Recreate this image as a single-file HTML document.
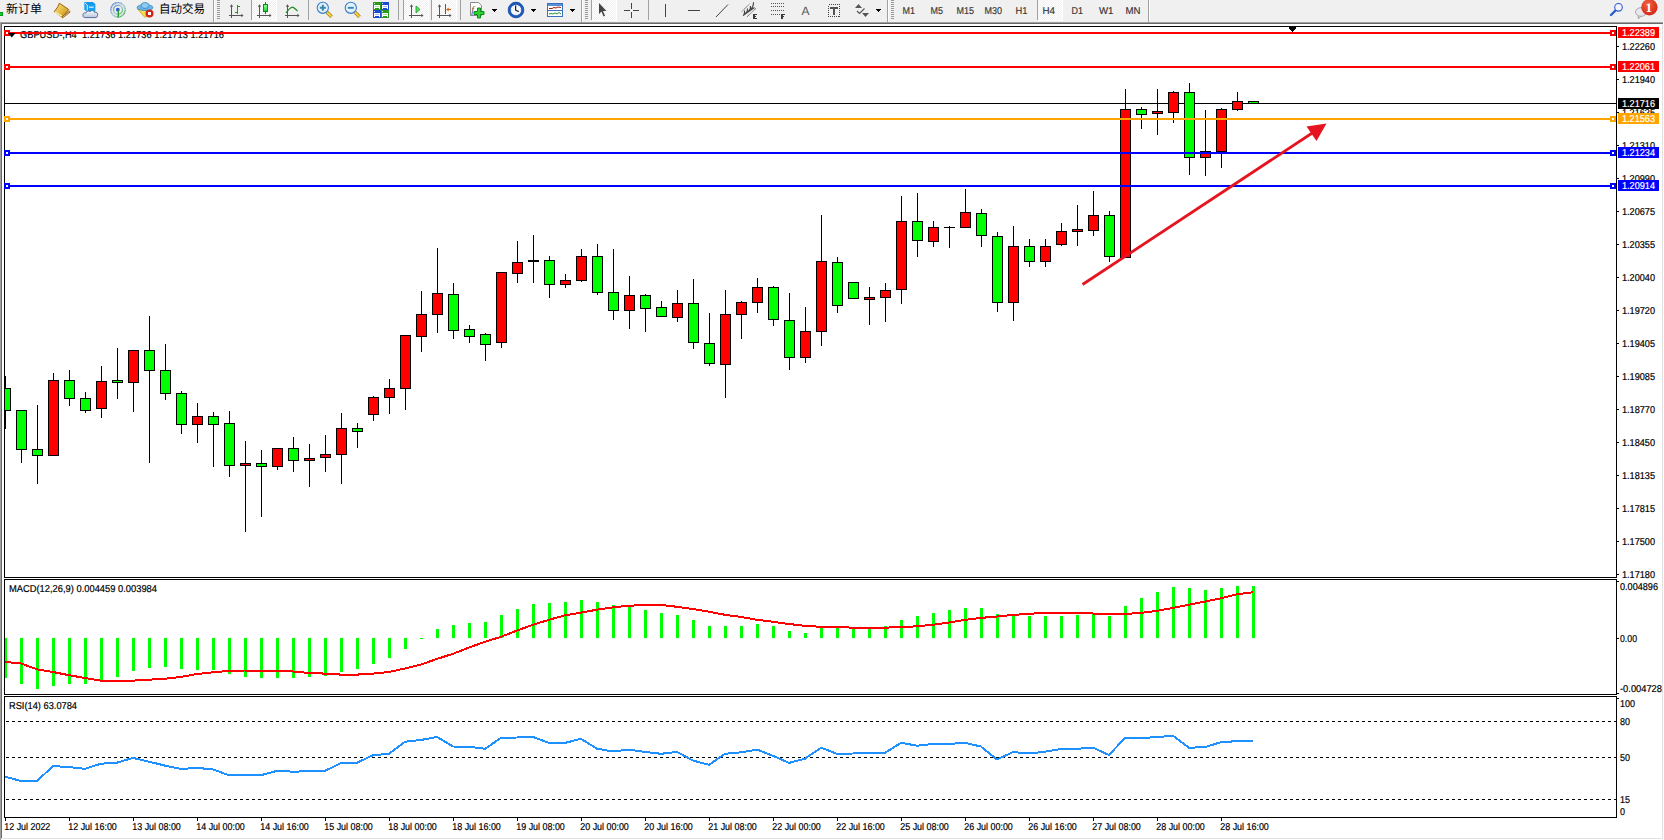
<!DOCTYPE html>
<html><head><meta charset="utf-8"><title>GBPUSD-,H4</title>
<style>
html,body{margin:0;padding:0;width:1664px;height:840px;overflow:hidden;background:#f0f0f0}
svg{display:block;position:absolute;left:0;top:0}
text{text-rendering:geometricPrecision}
.ax{font-family:"Liberation Sans",Arial,sans-serif;font-size:10px;fill:#000;stroke:#000;stroke-width:0.2px}
.w{fill:#fff;stroke:#fff}
.tb{font-family:"Liberation Sans",Arial,sans-serif;font-size:10px;fill:#333;stroke:#333;stroke-width:0.15px}
.cjk{font-family:"Liberation Sans","Noto Sans CJK SC","WenQuanYi Zen Hei",sans-serif;font-size:12px;fill:#000}
</style></head><body>
<svg width="1664" height="840" viewBox="0 0 1664 840" shape-rendering="crispEdges">
<rect x="0" y="0" width="1664" height="22" fill="#f0f0f0"/>
<rect x="0" y="22" width="1663" height="1" fill="#a0a0a0"/>
<rect x="0" y="23" width="1663" height="1" fill="#696969"/>
<rect x="0" y="22" width="1" height="818" fill="#a0a0a0"/>
<rect x="1" y="23" width="1" height="816" fill="#696969"/>
<rect x="2" y="24" width="1662" height="816" fill="#ffffff"/>
<rect x="1663" y="22" width="1" height="818" fill="#ffffff"/>
<rect x="1662" y="24" width="1" height="815" fill="#e3e3e3"/>
<rect x="1" y="838" width="1662" height="1" fill="#e3e3e3"/>
<rect x="4.5" y="26.5" width="1612" height="551" fill="none" stroke="#000" stroke-width="1"/>
<rect x="4.5" y="579.5" width="1612" height="115" fill="none" stroke="#000" stroke-width="1"/>
<rect x="4.5" y="696.5" width="1612" height="121" fill="none" stroke="#000" stroke-width="1"/>
<defs><clipPath id="cm"><rect x="5" y="27" width="1611" height="550"/></clipPath><clipPath id="cmacd"><rect x="5" y="580" width="1611" height="114"/></clipPath><clipPath id="crsi"><rect x="5" y="697" width="1611" height="120"/></clipPath></defs>
<g clip-path="url(#cm)">
<rect x="5" y="103" width="1611" height="1" fill="#000"/>
<rect x="5" y="376" width="1" height="53" fill="#000"/>
<rect x="0" y="388" width="11" height="23" fill="#000"/>
<rect x="1" y="389" width="9" height="21" fill="#00ff00"/>
<rect x="21" y="410" width="1" height="53" fill="#000"/>
<rect x="16" y="410" width="11" height="40" fill="#000"/>
<rect x="17" y="411" width="9" height="38" fill="#00ff00"/>
<rect x="37" y="405" width="1" height="79" fill="#000"/>
<rect x="32" y="449" width="11" height="7" fill="#000"/>
<rect x="33" y="450" width="9" height="5" fill="#00ff00"/>
<rect x="53" y="373" width="1" height="83" fill="#000"/>
<rect x="48" y="380" width="11" height="76" fill="#000"/>
<rect x="49" y="381" width="9" height="74" fill="#ff0000"/>
<rect x="69" y="370" width="1" height="36" fill="#000"/>
<rect x="64" y="380" width="11" height="19" fill="#000"/>
<rect x="65" y="381" width="9" height="17" fill="#00ff00"/>
<rect x="85" y="392" width="1" height="21" fill="#000"/>
<rect x="80" y="398" width="11" height="13" fill="#000"/>
<rect x="81" y="399" width="9" height="11" fill="#00ff00"/>
<rect x="101" y="366" width="1" height="52" fill="#000"/>
<rect x="96" y="381" width="11" height="28" fill="#000"/>
<rect x="97" y="382" width="9" height="26" fill="#ff0000"/>
<rect x="117" y="348" width="1" height="51" fill="#000"/>
<rect x="112" y="380" width="11" height="3" fill="#000"/>
<rect x="113" y="381" width="9" height="1" fill="#00ff00"/>
<rect x="133" y="350" width="1" height="62" fill="#000"/>
<rect x="128" y="350" width="11" height="33" fill="#000"/>
<rect x="129" y="351" width="9" height="31" fill="#ff0000"/>
<rect x="149" y="316" width="1" height="147" fill="#000"/>
<rect x="144" y="350" width="11" height="21" fill="#000"/>
<rect x="145" y="351" width="9" height="19" fill="#00ff00"/>
<rect x="165" y="344" width="1" height="56" fill="#000"/>
<rect x="160" y="370" width="11" height="24" fill="#000"/>
<rect x="161" y="371" width="9" height="22" fill="#00ff00"/>
<rect x="181" y="391" width="1" height="43" fill="#000"/>
<rect x="176" y="393" width="11" height="32" fill="#000"/>
<rect x="177" y="394" width="9" height="30" fill="#00ff00"/>
<rect x="197" y="403" width="1" height="40" fill="#000"/>
<rect x="192" y="416" width="11" height="9" fill="#000"/>
<rect x="193" y="417" width="9" height="7" fill="#ff0000"/>
<rect x="213" y="412" width="1" height="55" fill="#000"/>
<rect x="208" y="416" width="11" height="9" fill="#000"/>
<rect x="209" y="417" width="9" height="7" fill="#00ff00"/>
<rect x="229" y="411" width="1" height="66" fill="#000"/>
<rect x="224" y="423" width="11" height="43" fill="#000"/>
<rect x="225" y="424" width="9" height="41" fill="#00ff00"/>
<rect x="245" y="441" width="1" height="91" fill="#000"/>
<rect x="240" y="463" width="11" height="3" fill="#000"/>
<rect x="241" y="464" width="9" height="1" fill="#ff0000"/>
<rect x="261" y="450" width="1" height="67" fill="#000"/>
<rect x="256" y="463" width="11" height="4" fill="#000"/>
<rect x="257" y="464" width="9" height="2" fill="#00ff00"/>
<rect x="277" y="448" width="1" height="22" fill="#000"/>
<rect x="272" y="448" width="11" height="19" fill="#000"/>
<rect x="273" y="449" width="9" height="17" fill="#ff0000"/>
<rect x="293" y="437" width="1" height="35" fill="#000"/>
<rect x="288" y="448" width="11" height="13" fill="#000"/>
<rect x="289" y="449" width="9" height="11" fill="#00ff00"/>
<rect x="309" y="444" width="1" height="43" fill="#000"/>
<rect x="304" y="458" width="11" height="3" fill="#000"/>
<rect x="305" y="459" width="9" height="1" fill="#ff0000"/>
<rect x="325" y="435" width="1" height="37" fill="#000"/>
<rect x="320" y="454" width="11" height="4" fill="#000"/>
<rect x="321" y="455" width="9" height="2" fill="#ff0000"/>
<rect x="341" y="413" width="1" height="71" fill="#000"/>
<rect x="336" y="428" width="11" height="27" fill="#000"/>
<rect x="337" y="429" width="9" height="25" fill="#ff0000"/>
<rect x="357" y="423" width="1" height="25" fill="#000"/>
<rect x="352" y="428" width="11" height="4" fill="#000"/>
<rect x="353" y="429" width="9" height="2" fill="#00ff00"/>
<rect x="373" y="396" width="1" height="25" fill="#000"/>
<rect x="368" y="397" width="11" height="18" fill="#000"/>
<rect x="369" y="398" width="9" height="16" fill="#ff0000"/>
<rect x="389" y="379" width="1" height="35" fill="#000"/>
<rect x="384" y="388" width="11" height="10" fill="#000"/>
<rect x="385" y="389" width="9" height="8" fill="#ff0000"/>
<rect x="405" y="335" width="1" height="75" fill="#000"/>
<rect x="400" y="335" width="11" height="54" fill="#000"/>
<rect x="401" y="336" width="9" height="52" fill="#ff0000"/>
<rect x="421" y="291" width="1" height="61" fill="#000"/>
<rect x="416" y="314" width="11" height="23" fill="#000"/>
<rect x="417" y="315" width="9" height="21" fill="#ff0000"/>
<rect x="437" y="248" width="1" height="85" fill="#000"/>
<rect x="432" y="293" width="11" height="22" fill="#000"/>
<rect x="433" y="294" width="9" height="20" fill="#ff0000"/>
<rect x="453" y="283" width="1" height="56" fill="#000"/>
<rect x="448" y="294" width="11" height="37" fill="#000"/>
<rect x="449" y="295" width="9" height="35" fill="#00ff00"/>
<rect x="469" y="325" width="1" height="18" fill="#000"/>
<rect x="464" y="329" width="11" height="8" fill="#000"/>
<rect x="465" y="330" width="9" height="6" fill="#00ff00"/>
<rect x="485" y="333" width="1" height="28" fill="#000"/>
<rect x="480" y="334" width="11" height="11" fill="#000"/>
<rect x="481" y="335" width="9" height="9" fill="#00ff00"/>
<rect x="501" y="272" width="1" height="76" fill="#000"/>
<rect x="496" y="272" width="11" height="71" fill="#000"/>
<rect x="497" y="273" width="9" height="69" fill="#ff0000"/>
<rect x="517" y="241" width="1" height="42" fill="#000"/>
<rect x="512" y="262" width="11" height="12" fill="#000"/>
<rect x="513" y="263" width="9" height="10" fill="#ff0000"/>
<rect x="533" y="235" width="1" height="48" fill="#000"/>
<rect x="528" y="260" width="11" height="2" fill="#000"/>
<rect x="549" y="256" width="1" height="42" fill="#000"/>
<rect x="544" y="260" width="11" height="25" fill="#000"/>
<rect x="545" y="261" width="9" height="23" fill="#00ff00"/>
<rect x="565" y="274" width="1" height="14" fill="#000"/>
<rect x="560" y="280" width="11" height="5" fill="#000"/>
<rect x="561" y="281" width="9" height="3" fill="#ff0000"/>
<rect x="581" y="249" width="1" height="33" fill="#000"/>
<rect x="576" y="256" width="11" height="25" fill="#000"/>
<rect x="577" y="257" width="9" height="23" fill="#ff0000"/>
<rect x="597" y="244" width="1" height="51" fill="#000"/>
<rect x="592" y="256" width="11" height="37" fill="#000"/>
<rect x="593" y="257" width="9" height="35" fill="#00ff00"/>
<rect x="613" y="249" width="1" height="71" fill="#000"/>
<rect x="608" y="292" width="11" height="19" fill="#000"/>
<rect x="609" y="293" width="9" height="17" fill="#00ff00"/>
<rect x="629" y="276" width="1" height="53" fill="#000"/>
<rect x="624" y="295" width="11" height="16" fill="#000"/>
<rect x="625" y="296" width="9" height="14" fill="#ff0000"/>
<rect x="645" y="294" width="1" height="38" fill="#000"/>
<rect x="640" y="295" width="11" height="14" fill="#000"/>
<rect x="641" y="296" width="9" height="12" fill="#00ff00"/>
<rect x="661" y="301" width="1" height="16" fill="#000"/>
<rect x="656" y="307" width="11" height="10" fill="#000"/>
<rect x="657" y="308" width="9" height="8" fill="#00ff00"/>
<rect x="677" y="290" width="1" height="32" fill="#000"/>
<rect x="672" y="303" width="11" height="15" fill="#000"/>
<rect x="673" y="304" width="9" height="13" fill="#ff0000"/>
<rect x="693" y="279" width="1" height="70" fill="#000"/>
<rect x="688" y="303" width="11" height="40" fill="#000"/>
<rect x="689" y="304" width="9" height="38" fill="#00ff00"/>
<rect x="709" y="313" width="1" height="53" fill="#000"/>
<rect x="704" y="343" width="11" height="21" fill="#000"/>
<rect x="705" y="344" width="9" height="19" fill="#00ff00"/>
<rect x="725" y="290" width="1" height="108" fill="#000"/>
<rect x="720" y="314" width="11" height="51" fill="#000"/>
<rect x="721" y="315" width="9" height="49" fill="#ff0000"/>
<rect x="741" y="301" width="1" height="38" fill="#000"/>
<rect x="736" y="302" width="11" height="13" fill="#000"/>
<rect x="737" y="303" width="9" height="11" fill="#ff0000"/>
<rect x="757" y="278" width="1" height="35" fill="#000"/>
<rect x="752" y="287" width="11" height="16" fill="#000"/>
<rect x="753" y="288" width="9" height="14" fill="#ff0000"/>
<rect x="773" y="286" width="1" height="40" fill="#000"/>
<rect x="768" y="287" width="11" height="33" fill="#000"/>
<rect x="769" y="288" width="9" height="31" fill="#00ff00"/>
<rect x="789" y="293" width="1" height="77" fill="#000"/>
<rect x="784" y="320" width="11" height="38" fill="#000"/>
<rect x="785" y="321" width="9" height="36" fill="#00ff00"/>
<rect x="805" y="307" width="1" height="56" fill="#000"/>
<rect x="800" y="331" width="11" height="27" fill="#000"/>
<rect x="801" y="332" width="9" height="25" fill="#ff0000"/>
<rect x="821" y="215" width="1" height="131" fill="#000"/>
<rect x="816" y="261" width="11" height="71" fill="#000"/>
<rect x="817" y="262" width="9" height="69" fill="#ff0000"/>
<rect x="837" y="257" width="1" height="56" fill="#000"/>
<rect x="832" y="262" width="11" height="44" fill="#000"/>
<rect x="833" y="263" width="9" height="42" fill="#00ff00"/>
<rect x="853" y="282" width="1" height="17" fill="#000"/>
<rect x="848" y="282" width="11" height="17" fill="#000"/>
<rect x="849" y="283" width="9" height="15" fill="#00ff00"/>
<rect x="869" y="287" width="1" height="38" fill="#000"/>
<rect x="864" y="297" width="11" height="3" fill="#000"/>
<rect x="865" y="298" width="9" height="1" fill="#ff0000"/>
<rect x="885" y="283" width="1" height="39" fill="#000"/>
<rect x="880" y="290" width="11" height="8" fill="#000"/>
<rect x="881" y="291" width="9" height="6" fill="#ff0000"/>
<rect x="901" y="196" width="1" height="108" fill="#000"/>
<rect x="896" y="221" width="11" height="69" fill="#000"/>
<rect x="897" y="222" width="9" height="67" fill="#ff0000"/>
<rect x="917" y="193" width="1" height="64" fill="#000"/>
<rect x="912" y="221" width="11" height="20" fill="#000"/>
<rect x="913" y="222" width="9" height="18" fill="#00ff00"/>
<rect x="933" y="221" width="1" height="26" fill="#000"/>
<rect x="928" y="227" width="11" height="15" fill="#000"/>
<rect x="929" y="228" width="9" height="13" fill="#ff0000"/>
<rect x="949" y="226" width="1" height="22" fill="#000"/>
<rect x="944" y="227" width="11" height="1" fill="#000"/>
<rect x="965" y="189" width="1" height="39" fill="#000"/>
<rect x="960" y="212" width="11" height="16" fill="#000"/>
<rect x="961" y="213" width="9" height="14" fill="#ff0000"/>
<rect x="981" y="209" width="1" height="38" fill="#000"/>
<rect x="976" y="213" width="11" height="23" fill="#000"/>
<rect x="977" y="214" width="9" height="21" fill="#00ff00"/>
<rect x="997" y="232" width="1" height="80" fill="#000"/>
<rect x="992" y="236" width="11" height="67" fill="#000"/>
<rect x="993" y="237" width="9" height="65" fill="#00ff00"/>
<rect x="1013" y="226" width="1" height="95" fill="#000"/>
<rect x="1008" y="246" width="11" height="57" fill="#000"/>
<rect x="1009" y="247" width="9" height="55" fill="#ff0000"/>
<rect x="1029" y="239" width="1" height="28" fill="#000"/>
<rect x="1024" y="246" width="11" height="16" fill="#000"/>
<rect x="1025" y="247" width="9" height="14" fill="#00ff00"/>
<rect x="1045" y="239" width="1" height="28" fill="#000"/>
<rect x="1040" y="246" width="11" height="16" fill="#000"/>
<rect x="1041" y="247" width="9" height="14" fill="#ff0000"/>
<rect x="1061" y="223" width="1" height="23" fill="#000"/>
<rect x="1056" y="231" width="11" height="14" fill="#000"/>
<rect x="1057" y="232" width="9" height="12" fill="#ff0000"/>
<rect x="1077" y="205" width="1" height="41" fill="#000"/>
<rect x="1072" y="229" width="11" height="3" fill="#000"/>
<rect x="1073" y="230" width="9" height="1" fill="#ff0000"/>
<rect x="1093" y="191" width="1" height="45" fill="#000"/>
<rect x="1088" y="215" width="11" height="16" fill="#000"/>
<rect x="1089" y="216" width="9" height="14" fill="#ff0000"/>
<rect x="1109" y="211" width="1" height="51" fill="#000"/>
<rect x="1104" y="215" width="11" height="42" fill="#000"/>
<rect x="1105" y="216" width="9" height="40" fill="#00ff00"/>
<rect x="1125" y="89" width="1" height="169" fill="#000"/>
<rect x="1120" y="109" width="11" height="149" fill="#000"/>
<rect x="1121" y="110" width="9" height="147" fill="#ff0000"/>
<rect x="1141" y="107" width="1" height="22" fill="#000"/>
<rect x="1136" y="109" width="11" height="6" fill="#000"/>
<rect x="1137" y="110" width="9" height="4" fill="#00ff00"/>
<rect x="1157" y="89" width="1" height="46" fill="#000"/>
<rect x="1152" y="111" width="11" height="3" fill="#000"/>
<rect x="1153" y="112" width="9" height="1" fill="#ff0000"/>
<rect x="1173" y="91" width="1" height="32" fill="#000"/>
<rect x="1168" y="92" width="11" height="21" fill="#000"/>
<rect x="1169" y="93" width="9" height="19" fill="#ff0000"/>
<rect x="1189" y="83" width="1" height="92" fill="#000"/>
<rect x="1184" y="92" width="11" height="66" fill="#000"/>
<rect x="1185" y="93" width="9" height="64" fill="#00ff00"/>
<rect x="1205" y="110" width="1" height="66" fill="#000"/>
<rect x="1200" y="151" width="11" height="7" fill="#000"/>
<rect x="1201" y="152" width="9" height="5" fill="#ff0000"/>
<rect x="1221" y="108" width="1" height="60" fill="#000"/>
<rect x="1216" y="109" width="11" height="43" fill="#000"/>
<rect x="1217" y="110" width="9" height="41" fill="#ff0000"/>
<rect x="1237" y="92" width="1" height="19" fill="#000"/>
<rect x="1232" y="101" width="11" height="9" fill="#000"/>
<rect x="1233" y="102" width="9" height="7" fill="#ff0000"/>
<rect x="1253" y="101" width="1" height="3" fill="#000"/>
<rect x="1248" y="101" width="11" height="3" fill="#000"/>
<rect x="1249" y="102" width="9" height="1" fill="#00ff00"/>
</g>
<rect x="1617" y="46" width="2" height="1" fill="#000"/>
<text x="1622" y="50" class="ax" textLength="33" lengthAdjust="spacingAndGlyphs">1.22260</text>
<rect x="1617" y="79" width="2" height="1" fill="#000"/>
<text x="1622" y="83" class="ax" textLength="33" lengthAdjust="spacingAndGlyphs">1.21940</text>
<rect x="1617" y="112" width="2" height="1" fill="#000"/>
<text x="1622" y="116" class="ax" textLength="33" lengthAdjust="spacingAndGlyphs">1.21625</text>
<rect x="1617" y="145" width="2" height="1" fill="#000"/>
<text x="1622" y="149" class="ax" textLength="33" lengthAdjust="spacingAndGlyphs">1.21310</text>
<rect x="1617" y="178" width="2" height="1" fill="#000"/>
<text x="1622" y="182" class="ax" textLength="33" lengthAdjust="spacingAndGlyphs">1.20990</text>
<rect x="1617" y="211" width="2" height="1" fill="#000"/>
<text x="1622" y="215" class="ax" textLength="33" lengthAdjust="spacingAndGlyphs">1.20675</text>
<rect x="1617" y="244" width="2" height="1" fill="#000"/>
<text x="1622" y="248" class="ax" textLength="33" lengthAdjust="spacingAndGlyphs">1.20355</text>
<rect x="1617" y="277" width="2" height="1" fill="#000"/>
<text x="1622" y="281" class="ax" textLength="33" lengthAdjust="spacingAndGlyphs">1.20040</text>
<rect x="1617" y="310" width="2" height="1" fill="#000"/>
<text x="1622" y="314" class="ax" textLength="33" lengthAdjust="spacingAndGlyphs">1.19720</text>
<rect x="1617" y="343" width="2" height="1" fill="#000"/>
<text x="1622" y="347" class="ax" textLength="33" lengthAdjust="spacingAndGlyphs">1.19405</text>
<rect x="1617" y="376" width="2" height="1" fill="#000"/>
<text x="1622" y="380" class="ax" textLength="33" lengthAdjust="spacingAndGlyphs">1.19085</text>
<rect x="1617" y="409" width="2" height="1" fill="#000"/>
<text x="1622" y="413" class="ax" textLength="33" lengthAdjust="spacingAndGlyphs">1.18770</text>
<rect x="1617" y="442" width="2" height="1" fill="#000"/>
<text x="1622" y="446" class="ax" textLength="33" lengthAdjust="spacingAndGlyphs">1.18450</text>
<rect x="1617" y="475" width="2" height="1" fill="#000"/>
<text x="1622" y="479" class="ax" textLength="33" lengthAdjust="spacingAndGlyphs">1.18135</text>
<rect x="1617" y="508" width="2" height="1" fill="#000"/>
<text x="1622" y="512" class="ax" textLength="33" lengthAdjust="spacingAndGlyphs">1.17815</text>
<rect x="1617" y="541" width="2" height="1" fill="#000"/>
<text x="1622" y="545" class="ax" textLength="33" lengthAdjust="spacingAndGlyphs">1.17500</text>
<rect x="1617" y="574" width="2" height="1" fill="#000"/>
<text x="1622" y="578" class="ax" textLength="33" lengthAdjust="spacingAndGlyphs">1.17180</text>
<text x="20" y="38" class="ax" textLength="204" lengthAdjust="spacingAndGlyphs" xml:space="preserve">GBPUSD-,H4  1.21736 1.21736 1.21713 1.21716</text>
<rect x="5" y="32" width="1611" height="2" fill="#ff0000"/>
<rect x="4" y="30" width="6" height="6" fill="#ff0000"/>
<rect x="6" y="32" width="2" height="2" fill="#fff"/>
<rect x="1610" y="30" width="6" height="6" fill="#ff0000"/>
<rect x="1612" y="32" width="2" height="2" fill="#fff"/>
<rect x="5" y="66" width="1611" height="2" fill="#ff0000"/>
<rect x="4" y="64" width="6" height="6" fill="#ff0000"/>
<rect x="6" y="66" width="2" height="2" fill="#fff"/>
<rect x="1610" y="64" width="6" height="6" fill="#ff0000"/>
<rect x="1612" y="66" width="2" height="2" fill="#fff"/>
<rect x="5" y="118" width="1611" height="2" fill="#ffa500"/>
<rect x="4" y="116" width="6" height="6" fill="#ffa500"/>
<rect x="6" y="118" width="2" height="2" fill="#fff"/>
<rect x="1610" y="116" width="6" height="6" fill="#ffa500"/>
<rect x="1612" y="118" width="2" height="2" fill="#fff"/>
<rect x="5" y="152" width="1611" height="2" fill="#0000ff"/>
<rect x="4" y="150" width="6" height="6" fill="#0000ff"/>
<rect x="6" y="152" width="2" height="2" fill="#fff"/>
<rect x="1610" y="150" width="6" height="6" fill="#0000ff"/>
<rect x="1612" y="152" width="2" height="2" fill="#fff"/>
<rect x="5" y="185" width="1611" height="2" fill="#0000ff"/>
<rect x="4" y="183" width="6" height="6" fill="#0000ff"/>
<rect x="6" y="185" width="2" height="2" fill="#fff"/>
<rect x="1610" y="183" width="6" height="6" fill="#0000ff"/>
<rect x="1612" y="185" width="2" height="2" fill="#fff"/>
<polygon points="8,33 15.5,33 11.75,37.5" fill="#000" shape-rendering="auto"/>
<line x1="1082.5" y1="284.5" x2="1313" y2="132.5" stroke="#e6141e" stroke-width="2.8" shape-rendering="auto"/>
<polygon points="1306.5,126.5 1326.5,123.5 1316.5,141" fill="#e6141e" shape-rendering="auto"/>
<polygon points="1287.5,26 1297.5,26 1292.5,32.5" fill="#000"/>
<rect x="1618" y="27" width="41" height="11" fill="#ff0000"/>
<text x="1622" y="36" class="ax w" textLength="33" lengthAdjust="spacingAndGlyphs">1.22389</text>
<rect x="1618" y="61" width="41" height="11" fill="#ff0000"/>
<text x="1622" y="70" class="ax w" textLength="33" lengthAdjust="spacingAndGlyphs">1.22061</text>
<rect x="1618" y="113" width="41" height="11" fill="#ffa500"/>
<text x="1622" y="122" class="ax w" textLength="33" lengthAdjust="spacingAndGlyphs">1.21563</text>
<rect x="1618" y="147" width="41" height="11" fill="#0000ff"/>
<text x="1622" y="156" class="ax w" textLength="33" lengthAdjust="spacingAndGlyphs">1.21234</text>
<rect x="1618" y="180" width="41" height="11" fill="#0000ff"/>
<text x="1622" y="189" class="ax w" textLength="33" lengthAdjust="spacingAndGlyphs">1.20914</text>
<rect x="1618" y="98" width="41" height="11" fill="#000"/>
<text x="1622" y="107" class="ax w" textLength="33" lengthAdjust="spacingAndGlyphs">1.21716</text>
<g clip-path="url(#cmacd)">
<rect x="4" y="638" width="3" height="40" fill="#00ff00"/>
<rect x="20" y="638" width="3" height="46" fill="#00ff00"/>
<rect x="36" y="638" width="3" height="51" fill="#00ff00"/>
<rect x="52" y="638" width="3" height="48" fill="#00ff00"/>
<rect x="68" y="638" width="3" height="46" fill="#00ff00"/>
<rect x="84" y="638" width="3" height="46" fill="#00ff00"/>
<rect x="100" y="638" width="3" height="42" fill="#00ff00"/>
<rect x="116" y="638" width="3" height="39" fill="#00ff00"/>
<rect x="132" y="638" width="3" height="33" fill="#00ff00"/>
<rect x="148" y="638" width="3" height="30" fill="#00ff00"/>
<rect x="164" y="638" width="3" height="29" fill="#00ff00"/>
<rect x="180" y="638" width="3" height="31" fill="#00ff00"/>
<rect x="196" y="638" width="3" height="32" fill="#00ff00"/>
<rect x="212" y="638" width="3" height="32" fill="#00ff00"/>
<rect x="228" y="638" width="3" height="36" fill="#00ff00"/>
<rect x="244" y="638" width="3" height="39" fill="#00ff00"/>
<rect x="260" y="638" width="3" height="40" fill="#00ff00"/>
<rect x="276" y="638" width="3" height="40" fill="#00ff00"/>
<rect x="292" y="638" width="3" height="40" fill="#00ff00"/>
<rect x="308" y="638" width="3" height="39" fill="#00ff00"/>
<rect x="324" y="638" width="3" height="38" fill="#00ff00"/>
<rect x="340" y="638" width="3" height="34" fill="#00ff00"/>
<rect x="356" y="638" width="3" height="31" fill="#00ff00"/>
<rect x="372" y="638" width="3" height="26" fill="#00ff00"/>
<rect x="388" y="638" width="3" height="20" fill="#00ff00"/>
<rect x="404" y="638" width="3" height="11" fill="#00ff00"/>
<rect x="420" y="638" width="3" height="1" fill="#00ff00"/>
<rect x="436" y="629" width="3" height="9" fill="#00ff00"/>
<rect x="452" y="625" width="3" height="13" fill="#00ff00"/>
<rect x="468" y="623" width="3" height="15" fill="#00ff00"/>
<rect x="484" y="622" width="3" height="16" fill="#00ff00"/>
<rect x="500" y="615" width="3" height="23" fill="#00ff00"/>
<rect x="516" y="609" width="3" height="29" fill="#00ff00"/>
<rect x="532" y="604" width="3" height="34" fill="#00ff00"/>
<rect x="548" y="603" width="3" height="35" fill="#00ff00"/>
<rect x="564" y="602" width="3" height="36" fill="#00ff00"/>
<rect x="580" y="600" width="3" height="38" fill="#00ff00"/>
<rect x="596" y="602" width="3" height="36" fill="#00ff00"/>
<rect x="612" y="605" width="3" height="33" fill="#00ff00"/>
<rect x="628" y="607" width="3" height="31" fill="#00ff00"/>
<rect x="644" y="610" width="3" height="28" fill="#00ff00"/>
<rect x="660" y="613" width="3" height="25" fill="#00ff00"/>
<rect x="676" y="615" width="3" height="23" fill="#00ff00"/>
<rect x="692" y="620" width="3" height="18" fill="#00ff00"/>
<rect x="708" y="626" width="3" height="12" fill="#00ff00"/>
<rect x="724" y="626" width="3" height="12" fill="#00ff00"/>
<rect x="740" y="626" width="3" height="12" fill="#00ff00"/>
<rect x="756" y="624" width="3" height="14" fill="#00ff00"/>
<rect x="772" y="626" width="3" height="12" fill="#00ff00"/>
<rect x="788" y="631" width="3" height="7" fill="#00ff00"/>
<rect x="804" y="633" width="3" height="5" fill="#00ff00"/>
<rect x="820" y="627" width="3" height="11" fill="#00ff00"/>
<rect x="836" y="627" width="3" height="11" fill="#00ff00"/>
<rect x="852" y="628" width="3" height="10" fill="#00ff00"/>
<rect x="868" y="628" width="3" height="10" fill="#00ff00"/>
<rect x="884" y="626" width="3" height="12" fill="#00ff00"/>
<rect x="900" y="620" width="3" height="18" fill="#00ff00"/>
<rect x="916" y="616" width="3" height="22" fill="#00ff00"/>
<rect x="932" y="613" width="3" height="25" fill="#00ff00"/>
<rect x="948" y="610" width="3" height="28" fill="#00ff00"/>
<rect x="964" y="608" width="3" height="30" fill="#00ff00"/>
<rect x="980" y="608" width="3" height="30" fill="#00ff00"/>
<rect x="996" y="614" width="3" height="24" fill="#00ff00"/>
<rect x="1012" y="615" width="3" height="23" fill="#00ff00"/>
<rect x="1028" y="616" width="3" height="22" fill="#00ff00"/>
<rect x="1044" y="616" width="3" height="22" fill="#00ff00"/>
<rect x="1060" y="616" width="3" height="22" fill="#00ff00"/>
<rect x="1076" y="615" width="3" height="23" fill="#00ff00"/>
<rect x="1092" y="614" width="3" height="24" fill="#00ff00"/>
<rect x="1108" y="616" width="3" height="22" fill="#00ff00"/>
<rect x="1124" y="606" width="3" height="32" fill="#00ff00"/>
<rect x="1140" y="598" width="3" height="40" fill="#00ff00"/>
<rect x="1156" y="592" width="3" height="46" fill="#00ff00"/>
<rect x="1172" y="587" width="3" height="51" fill="#00ff00"/>
<rect x="1188" y="588" width="3" height="50" fill="#00ff00"/>
<rect x="1204" y="590" width="3" height="48" fill="#00ff00"/>
<rect x="1220" y="588" width="3" height="50" fill="#00ff00"/>
<rect x="1236" y="586" width="3" height="52" fill="#00ff00"/>
<rect x="1252" y="586" width="3" height="52" fill="#00ff00"/>
<polyline points="5,661.9 21,663.5 37,669.3 53,672.0 69,675.2 85,678.0 101,680.6 117,680.6 133,680.6 149,679.7 165,678.7 181,676.9 197,674.0 213,672.3 229,670.9 245,670.5 261,670.5 277,670.5 293,671.5 309,673.0 325,673.6 341,674.6 357,674.6 373,673.6 389,672.0 405,668.5 421,664.6 437,658.9 453,653.8 469,647.5 485,641.8 501,636.8 517,630.5 533,624.8 549,619.8 565,615.3 581,612.6 597,609.7 613,607.3 629,605.8 645,604.9 661,604.9 677,606.8 693,609.0 709,611.7 725,614.8 741,616.9 757,619.8 773,621.8 789,624.0 805,625.8 821,626.8 837,627.2 853,627.6 869,627.6 885,627.6 901,627.2 917,626.3 933,624.8 949,622.5 965,619.9 981,617.9 997,616.5 1013,614.9 1029,613.8 1045,612.9 1061,612.9 1077,612.9 1093,613.5 1109,614.0 1125,614.0 1141,612.9 1157,610.8 1173,607.9 1189,604.7 1205,601.6 1221,598.3 1237,594.3 1253,592.2" fill="none" stroke="#ff0000" stroke-width="2"/>
</g>
<text x="9" y="592" class="ax" textLength="148" lengthAdjust="spacingAndGlyphs">MACD(12,26,9) 0.004459 0.003984</text>
<rect x="1617" y="581" width="2" height="1" fill="#000"/>
<rect x="1617" y="638" width="2" height="1" fill="#000"/>
<rect x="1617" y="693" width="2" height="1" fill="#000"/>
<text x="1620" y="590" class="ax" textLength="38" lengthAdjust="spacingAndGlyphs">0.004896</text>
<text x="1620" y="642" class="ax" textLength="17" lengthAdjust="spacingAndGlyphs">0.00</text>
<text x="1620" y="692" class="ax" textLength="42" lengthAdjust="spacingAndGlyphs">-0.004728</text>
<line x1="6" y1="721.5" x2="1616" y2="721.5" stroke="#000" stroke-width="1" stroke-dasharray="3,3"/>
<line x1="6" y1="757.5" x2="1616" y2="757.5" stroke="#000" stroke-width="1" stroke-dasharray="3,3"/>
<line x1="6" y1="799.5" x2="1616" y2="799.5" stroke="#000" stroke-width="1" stroke-dasharray="3,3"/>
<g clip-path="url(#crsi)">
<polyline points="5,776.7 21,781.0 37,781.0 53,766.0 69,767.1 85,768.8 101,763.7 117,762.7 133,757.9 149,761.7 165,765.6 181,769.0 197,767.9 213,769.4 229,775.2 245,775.2 261,775.2 277,770.8 293,771.7 309,771.2 325,770.8 341,763.1 357,762.7 373,755.2 389,753.8 405,741.7 421,740.0 437,736.9 453,746.5 469,746.7 485,748.8 501,737.9 517,737.5 533,736.9 549,742.9 565,742.9 581,738.8 597,748.7 613,751.5 629,749.6 645,751.9 661,753.8 677,751.9 693,760.6 709,764.8 725,753.8 741,752.3 757,749.6 773,755.8 789,762.9 805,758.7 821,747.7 837,753.8 853,753.5 869,752.9 885,752.9 901,742.8 917,745.7 933,743.9 949,743.9 965,742.8 981,746.6 997,759.5 1013,752.1 1029,753.5 1045,751.7 1061,749.0 1077,748.8 1093,747.7 1109,755.0 1125,737.9 1141,737.9 1157,737.2 1173,735.7 1189,747.7 1205,747.2 1221,742.1 1237,741.2 1253,741.0" fill="none" stroke="#1e90ff" stroke-width="2"/>
</g>
<text x="9" y="709" class="ax" textLength="68" lengthAdjust="spacingAndGlyphs">RSI(14) 63.0784</text>
<rect x="1617" y="698" width="2" height="1" fill="#000"/>
<text x="1620" y="707" class="ax" textLength="15" lengthAdjust="spacingAndGlyphs">100</text>
<text x="1620" y="725" class="ax" textLength="10" lengthAdjust="spacingAndGlyphs">80</text>
<text x="1620" y="761" class="ax" textLength="10" lengthAdjust="spacingAndGlyphs">50</text>
<text x="1620" y="803" class="ax" textLength="10" lengthAdjust="spacingAndGlyphs">15</text>
<text x="1620" y="815" class="ax" textLength="5" lengthAdjust="spacingAndGlyphs">0</text>
<rect x="5" y="818" width="1" height="3" fill="#000"/>
<text x="4.3" y="830" class="ax" textLength="46" lengthAdjust="spacingAndGlyphs">12 Jul 2022</text>
<rect x="69" y="818" width="1" height="3" fill="#000"/>
<text x="68.3" y="830" class="ax" textLength="48.5" lengthAdjust="spacingAndGlyphs">12 Jul 16:00</text>
<rect x="133" y="818" width="1" height="3" fill="#000"/>
<text x="132.3" y="830" class="ax" textLength="48.5" lengthAdjust="spacingAndGlyphs">13 Jul 08:00</text>
<rect x="197" y="818" width="1" height="3" fill="#000"/>
<text x="196.3" y="830" class="ax" textLength="48.5" lengthAdjust="spacingAndGlyphs">14 Jul 00:00</text>
<rect x="261" y="818" width="1" height="3" fill="#000"/>
<text x="260.3" y="830" class="ax" textLength="48.5" lengthAdjust="spacingAndGlyphs">14 Jul 16:00</text>
<rect x="325" y="818" width="1" height="3" fill="#000"/>
<text x="324.3" y="830" class="ax" textLength="48.5" lengthAdjust="spacingAndGlyphs">15 Jul 08:00</text>
<rect x="389" y="818" width="1" height="3" fill="#000"/>
<text x="388.3" y="830" class="ax" textLength="48.5" lengthAdjust="spacingAndGlyphs">18 Jul 00:00</text>
<rect x="453" y="818" width="1" height="3" fill="#000"/>
<text x="452.3" y="830" class="ax" textLength="48.5" lengthAdjust="spacingAndGlyphs">18 Jul 16:00</text>
<rect x="517" y="818" width="1" height="3" fill="#000"/>
<text x="516.3" y="830" class="ax" textLength="48.5" lengthAdjust="spacingAndGlyphs">19 Jul 08:00</text>
<rect x="581" y="818" width="1" height="3" fill="#000"/>
<text x="580.3" y="830" class="ax" textLength="48.5" lengthAdjust="spacingAndGlyphs">20 Jul 00:00</text>
<rect x="645" y="818" width="1" height="3" fill="#000"/>
<text x="644.3" y="830" class="ax" textLength="48.5" lengthAdjust="spacingAndGlyphs">20 Jul 16:00</text>
<rect x="709" y="818" width="1" height="3" fill="#000"/>
<text x="708.3" y="830" class="ax" textLength="48.5" lengthAdjust="spacingAndGlyphs">21 Jul 08:00</text>
<rect x="773" y="818" width="1" height="3" fill="#000"/>
<text x="772.3" y="830" class="ax" textLength="48.5" lengthAdjust="spacingAndGlyphs">22 Jul 00:00</text>
<rect x="837" y="818" width="1" height="3" fill="#000"/>
<text x="836.3" y="830" class="ax" textLength="48.5" lengthAdjust="spacingAndGlyphs">22 Jul 16:00</text>
<rect x="901" y="818" width="1" height="3" fill="#000"/>
<text x="900.3" y="830" class="ax" textLength="48.5" lengthAdjust="spacingAndGlyphs">25 Jul 08:00</text>
<rect x="965" y="818" width="1" height="3" fill="#000"/>
<text x="964.3" y="830" class="ax" textLength="48.5" lengthAdjust="spacingAndGlyphs">26 Jul 00:00</text>
<rect x="1029" y="818" width="1" height="3" fill="#000"/>
<text x="1028.3" y="830" class="ax" textLength="48.5" lengthAdjust="spacingAndGlyphs">26 Jul 16:00</text>
<rect x="1093" y="818" width="1" height="3" fill="#000"/>
<text x="1092.3" y="830" class="ax" textLength="48.5" lengthAdjust="spacingAndGlyphs">27 Jul 08:00</text>
<rect x="1157" y="818" width="1" height="3" fill="#000"/>
<text x="1156.3" y="830" class="ax" textLength="48.5" lengthAdjust="spacingAndGlyphs">28 Jul 00:00</text>
<rect x="1221" y="818" width="1" height="3" fill="#000"/>
<text x="1220.3" y="830" class="ax" textLength="48.5" lengthAdjust="spacingAndGlyphs">28 Jul 16:00</text>
<defs>
<pattern id="dith" x="0" y="0" width="2" height="2" patternUnits="userSpaceOnUse"><rect width="2" height="2" fill="#f0f0f0"/><rect width="1" height="1" fill="#fff"/><rect x="1" y="1" width="1" height="1" fill="#fff"/></pattern>
<linearGradient id="gbook" x1="0" y1="0" x2="1" y2="1"><stop offset="0" stop-color="#ffe680"/><stop offset="1" stop-color="#c8900a"/></linearGradient>
<linearGradient id="gblue" x1="0" y1="0" x2="0" y2="1"><stop offset="0" stop-color="#5ab4f0"/><stop offset="1" stop-color="#1f6fd0"/></linearGradient>
<radialGradient id="gbadge" cx="0.4" cy="0.3" r="0.8"><stop offset="0" stop-color="#f06040"/><stop offset="1" stop-color="#d02010"/></radialGradient>
<linearGradient id="gcandle" x1="0" y1="0" x2="0" y2="1"><stop offset="0" stop-color="#90ff90"/><stop offset="1" stop-color="#20d040"/></linearGradient>
<linearGradient id="gcloud" x1="0" y1="0" x2="0" y2="1"><stop offset="0" stop-color="#ffffff"/><stop offset="1" stop-color="#b4c2d8"/></linearGradient>
<radialGradient id="gsig" cx="0.5" cy="0.5" r="0.5"><stop offset="0" stop-color="#f4f6f4"/><stop offset="1" stop-color="#d8e8d8"/></radialGradient>
<linearGradient id="gsigs" x1="0" y1="0" x2="1" y2="1"><stop offset="0" stop-color="#2a5ad0"/><stop offset="0.5" stop-color="#9ab8e0"/><stop offset="1" stop-color="#1aa02a"/></linearGradient>
<linearGradient id="ghandle" x1="0" y1="0" x2="1" y2="0"><stop offset="0" stop-color="#f8e060"/><stop offset="1" stop-color="#c89810"/></linearGradient>
</defs>
<g id="toolbar">
<!-- pressed buttons -->
<rect x="252" y="0" width="24" height="20" fill="url(#dith)"/><rect x="252" y="20" width="25" height="1" fill="#fff"/><rect x="276" y="0" width="1" height="20" fill="#fff"/>
<rect x="404" y="0" width="24" height="20" fill="url(#dith)"/><rect x="404" y="20" width="25" height="1" fill="#fff"/><rect x="428" y="0" width="1" height="20" fill="#fff"/>
<rect x="432" y="0" width="24" height="20" fill="url(#dith)"/><rect x="432" y="20" width="25" height="1" fill="#fff"/><rect x="456" y="0" width="1" height="20" fill="#fff"/>
<rect x="592" y="0" width="24" height="20" fill="url(#dith)"/><rect x="592" y="20" width="25" height="1" fill="#fff"/><rect x="616" y="0" width="1" height="20" fill="#fff"/>
<rect x="1038" y="0" width="24" height="20" fill="url(#dith)"/><rect x="1038" y="20" width="25" height="1" fill="#fff"/><rect x="1062" y="0" width="1" height="20" fill="#fff"/>
<!-- separators -->
<g fill="#a0a0a0">
<rect x="213" y="0" width="1" height="22"/><rect x="251" y="0" width="1" height="20"/><rect x="308" y="0" width="1" height="20"/>
<rect x="398" y="0" width="1" height="20"/><rect x="403" y="0" width="1" height="20"/><rect x="431" y="0" width="1" height="20"/><rect x="460" y="0" width="1" height="20"/>
<rect x="581" y="0" width="1" height="22"/><rect x="591" y="0" width="1" height="20"/><rect x="648" y="0" width="1" height="20"/>
<rect x="887" y="0" width="1" height="22"/><rect x="1037" y="0" width="1" height="20"/><rect x="1148" y="0" width="1" height="22"/>
</g>
<g fill="#fff"><rect x="214" y="0" width="1" height="22"/><rect x="582" y="0" width="1" height="21"/><rect x="888" y="0" width="1" height="21"/><rect x="1149" y="0" width="1" height="21"/></g>
<!-- grips -->
<g fill="#9a9a9a">
<rect x="217" y="0" width="3" height="1"/><rect x="217" y="2" width="3" height="1"/><rect x="217" y="4" width="3" height="1"/><rect x="217" y="6" width="3" height="1"/><rect x="217" y="8" width="3" height="1"/><rect x="217" y="10" width="3" height="1"/><rect x="217" y="12" width="3" height="1"/><rect x="217" y="14" width="3" height="1"/><rect x="217" y="16" width="3" height="1"/><rect x="217" y="18" width="3" height="1"/>
<rect x="585" y="0" width="3" height="1"/><rect x="585" y="2" width="3" height="1"/><rect x="585" y="4" width="3" height="1"/><rect x="585" y="6" width="3" height="1"/><rect x="585" y="8" width="3" height="1"/><rect x="585" y="10" width="3" height="1"/><rect x="585" y="12" width="3" height="1"/><rect x="585" y="14" width="3" height="1"/><rect x="585" y="16" width="3" height="1"/><rect x="585" y="18" width="3" height="1"/>
<rect x="891" y="0" width="3" height="1"/><rect x="891" y="2" width="3" height="1"/><rect x="891" y="4" width="3" height="1"/><rect x="891" y="6" width="3" height="1"/><rect x="891" y="8" width="3" height="1"/><rect x="891" y="10" width="3" height="1"/><rect x="891" y="12" width="3" height="1"/><rect x="891" y="14" width="3" height="1"/><rect x="891" y="16" width="3" height="1"/><rect x="891" y="18" width="3" height="1"/>
</g>
<!-- left partial green icon -->
<rect x="0" y="12" width="3" height="4" fill="#0a9a1a"/><rect x="0" y="13" width="2" height="2" fill="#10d030"/>
<!-- CJK labels -->
<text x="6" y="13" class="cjk" textLength="36" lengthAdjust="spacingAndGlyphs">新订单</text>
<text x="159" y="13" class="cjk" textLength="46" lengthAdjust="spacingAndGlyphs">自动交易</text>
<g shape-rendering="auto">
<!-- book icon -->
<path d="M62,16.8 L69.6,11 L70,12.2 L62.5,18 Z" fill="#e8d8a0" stroke="#9a6010" stroke-width="0.9"/>
<path d="M59.3,3.2 Q58.5,6.5 55.5,10 L54.2,11.6 L62,17 L68.8,9.6 Z" fill="url(#gbook)" stroke="#9a6010" stroke-width="1"/>
<path d="M55.2,12 L61.8,16.2" stroke="#f8e8a0" stroke-width="1.6"/>
<!-- cloud/server icon -->
<path d="M84.3,2.2 L92.8,2.2 L95.4,4.2 L95.4,11.5 L86.8,11.5 L84.3,9.8 Z" fill="#18a0f0"/>
<path d="M84.3,2.2 L92.8,2.2 L95.4,4.2 L86.8,4.2 Z" fill="#0a90e8"/>
<path d="M85,3 L87.3,5 L87.3,10.5" fill="none" stroke="#e8f6ff" stroke-width="0.9"/>
<rect x="89" y="6.6" width="4.6" height="1.2" fill="#e0f2ff"/>
<path d="M83.2,16.3 C82.2,13.8 84,12.4 85.8,13 C86.3,11.2 88.8,10.4 90.4,11.6 C91.4,9.9 94.2,10.2 94.4,12.3 C96.6,11.7 98.2,13.4 97.6,15.2 C97.8,17 96.4,17.6 95,17.6 L85.2,17.6 C83.9,17.6 83.2,17.1 83.2,16.3 Z" fill="url(#gcloud)" stroke="#4a6294" stroke-width="0.9"/>
<!-- signal icon -->
<circle cx="118" cy="9.8" r="7.2" fill="url(#gsig)" stroke="url(#gsigs)" stroke-width="1.4" stroke-dasharray="1.1,0.5"/>
<circle cx="118" cy="9.8" r="4.4" fill="none" stroke="url(#gsigs)" stroke-width="1.2" opacity="0.75"/>
<circle cx="117.8" cy="9.7" r="1.9" fill="#2a5ad0"/>
<path d="M118.3,10 L118.3,17.6" stroke="#1aa02a" stroke-width="1.3"/>
<!-- auto trading icon -->
<path d="M137.5,9 L147,9 L152,11 L145,17.5 Z" fill="#f5dc50" stroke="#c8a020" stroke-width="0.8"/>
<ellipse cx="145" cy="7.5" rx="8" ry="3" fill="#6ab8e8" stroke="#3a88c0" stroke-width="0.8"/>
<ellipse cx="145" cy="5.5" rx="4" ry="3" fill="#8ccaf0" stroke="#3a88c0" stroke-width="0.8"/>
<circle cx="149.5" cy="13.5" r="4" fill="#d02818"/>
<rect x="148" y="12" width="3" height="3" fill="#fff"/>
</g>
<!-- bar chart icon -->
<g fill="#555">
<rect x="231" y="5" width="1" height="13"/><rect x="229" y="15" width="14" height="1"/>
<path d="M229.8,6.8 L231.5,4.3 L233.2,6.8 Z M241.3,13.7 L243.6,15.5 L241.3,17.3 Z" shape-rendering="auto"/>
<rect x="259" y="5" width="1" height="13"/><rect x="257" y="15" width="14" height="1"/>
<path d="M257.8,6.8 L259.5,4.3 L261.2,6.8 Z M269.3,13.7 L271.6,15.5 L269.3,17.3 Z" shape-rendering="auto"/>
<rect x="287" y="5" width="1" height="13"/><rect x="285" y="15" width="14" height="1"/>
<path d="M285.8,6.8 L287.5,4.3 L289.2,6.8 Z M297.3,13.7 L299.6,15.5 L297.3,17.3 Z" shape-rendering="auto"/>
<rect x="411" y="5" width="1" height="13"/><rect x="409" y="15" width="14" height="1"/>
<path d="M409.8,6.8 L411.5,4.3 L413.2,6.8 Z M421.3,13.7 L423.6,15.5 L421.3,17.3 Z" shape-rendering="auto"/>
<rect x="439" y="5" width="1" height="13"/><rect x="437" y="15" width="14" height="1"/>
<path d="M437.8,6.8 L439.5,4.3 L441.2,6.8 Z M449.3,13.7 L451.6,15.5 L449.3,17.3 Z" shape-rendering="auto"/>
</g>
<g fill="#1a9a2a"><rect x="237" y="5" width="1" height="9"/><rect x="238" y="6" width="2" height="1"/><rect x="235" y="12" width="2" height="1"/></g>
<rect x="265" y="2" width="1" height="12" fill="#0a8a1a"/><rect x="263" y="4" width="5" height="8" fill="#0a8a1a"/><rect x="264" y="5" width="3" height="6" fill="url(#gcandle)"/>
<path d="M286,12.8 Q289.5,8.2 291.8,7.2 Q293.5,6.8 297.5,11.2" fill="none" stroke="#1a8a1a" stroke-width="1.1" shape-rendering="auto"/>
<path d="M416,6 L420,9.5 L416,13 Z" fill="#5ae05a" stroke="#1a9a2a" stroke-width="0.8" shape-rendering="auto"/>
<rect x="445" y="4" width="1" height="10" fill="#1a6aa0"/>
<path d="M446,9.5 L449,7.5 L448.5,9 L451,9 L451,10 L448.5,10 L449,11.5 Z" fill="#e05a10" shape-rendering="auto"/>
<!-- zoom icons -->
<g shape-rendering="auto">
<line x1="327" y1="12.3" x2="331.6" y2="16.9" stroke="#a87010" stroke-width="3.4"/>
<line x1="327" y1="12.3" x2="331.6" y2="16.9" stroke="#f0d840" stroke-width="2"/>
<circle cx="322.8" cy="7.8" r="5.6" fill="#dff2fc" stroke="#3a7ac8" stroke-width="1.1"/>
<path d="M319.8,7.8 L325.8,7.8 M322.8,4.8 L322.8,10.8" stroke="#3a84a8" stroke-width="1.9"/>
<line x1="355" y1="12.3" x2="359.6" y2="16.9" stroke="#a87010" stroke-width="3.4"/>
<line x1="355" y1="12.3" x2="359.6" y2="16.9" stroke="#f0d840" stroke-width="2"/>
<circle cx="350.8" cy="7.8" r="5.6" fill="#dff2fc" stroke="#3a7ac8" stroke-width="1.1"/>
<path d="M347.8,7.8 L353.8,7.8" stroke="#3a84a8" stroke-width="1.9"/>
</g>
<!-- tile icon -->
<rect x="373" y="2" width="8" height="8" fill="#2a9a1a"/><rect x="374" y="3" width="1" height="1" fill="#fff" opacity="0.8"/><rect x="374" y="5" width="6" height="3" fill="#fff"/><rect x="374" y="8" width="1" height="1" fill="#fff"/><rect x="379" y="8" width="1" height="1" fill="#fff"/><rect x="375" y="6" width="4" height="1" fill="#a8e090"/><rect x="381" y="2" width="8" height="8" fill="#1a4ad0"/><rect x="382" y="3" width="1" height="1" fill="#fff" opacity="0.8"/><rect x="382" y="5" width="6" height="3" fill="#fff"/><rect x="382" y="8" width="1" height="1" fill="#fff"/><rect x="387" y="8" width="1" height="1" fill="#fff"/><rect x="383" y="6" width="4" height="1" fill="#a0b8f0"/><rect x="373" y="10" width="8" height="8" fill="#1a4ad0"/><rect x="374" y="11" width="1" height="1" fill="#fff" opacity="0.8"/><rect x="374" y="13" width="6" height="3" fill="#fff"/><rect x="374" y="16" width="1" height="1" fill="#fff"/><rect x="379" y="16" width="1" height="1" fill="#fff"/><rect x="375" y="14" width="4" height="1" fill="#a0b8f0"/><rect x="381" y="10" width="8" height="8" fill="#2a9a1a"/><rect x="382" y="11" width="1" height="1" fill="#fff" opacity="0.8"/><rect x="382" y="13" width="6" height="3" fill="#fff"/><rect x="382" y="16" width="1" height="1" fill="#fff"/><rect x="387" y="16" width="1" height="1" fill="#fff"/><rect x="383" y="14" width="4" height="1" fill="#a8e090"/>
<!-- indicator add -->
<path d="M470.5,2.5 L478.5,2.5 L481.5,5.5 L481.5,15.5 L470.5,15.5 Z" fill="#fff" stroke="#8a8a8a" stroke-width="1" shape-rendering="auto"/>
<text x="471.2" y="12.8" style="font-family:'Liberation Serif',serif;font-style:italic;font-size:10px;fill:#444">f</text>
<path d="M477.5,8 h3 v3.5 h3.5 v3 h-3.5 v3.5 h-3 v-3.5 h-3.5 v-3 h3.5 Z" fill="#30d030" stroke="#0a8a1a" stroke-width="1" shape-rendering="auto"/>
<!-- dropdown arrows -->
<g fill="#000">
<path d="M491.5,9 L497.5,9 L494.5,12.5 Z"/><path d="M530.5,9 L536.5,9 L533.5,12.5 Z"/><path d="M569.5,9 L575.5,9 L572.5,12.5 Z"/><path d="M875.5,9 L881.5,9 L878.5,12.5 Z"/>
</g>
<!-- clock -->
<g shape-rendering="auto">
<circle cx="516" cy="10" r="6.6" fill="#f4f8fc" stroke="#1a5ac0" stroke-width="2.6"/><circle cx="516" cy="10" r="7.9" fill="none" stroke="#0a3a90" stroke-width="0.6"/>
<g stroke="#778" stroke-width="0.8"><path d="M516,4.6 v0.9 M516,14.5 v0.9 M510.6,10 h0.9 M520.5,10 h0.9 M513.3,5.3 l0.4,0.7 M518.7,5.3 l-0.4,0.7 M513.3,14.7 l0.4,-0.7 M518.7,14.7 l-0.4,-0.7"/></g><path d="M515.6,5.6 L515.6,10.2 L518.8,11.6" fill="none" stroke="#222" stroke-width="1.2"/>
</g>
<!-- template icon -->
<rect x="547.5" y="3.5" width="15" height="13" fill="#fff" stroke="#3a70c0" stroke-width="1"/>
<rect x="548" y="4" width="14" height="2" fill="#5a90d8"/>
<rect x="548" y="10" width="14" height="1" fill="#3a70c0"/>
<g shape-rendering="auto"><path d="M549,8.5 L552,8.5 L554,7.5 L556,8 L558,7 L561,7.5" fill="none" stroke="#a02010" stroke-width="1"/>
<path d="M549,14 L551,13.5 L553,14 L555,13 L557,14 L559,12.5 L561,14" fill="none" stroke="#1a9a2a" stroke-width="1"/></g>
<!-- cursor -->
<path d="M599,3 L599,14 L601.5,11.5 L603.5,16.5 L605,15.8 L603,11 L606.5,11 Z" fill="#444" shape-rendering="auto"/>
<!-- crosshair -->
<g fill="#444"><rect x="631" y="3" width="1" height="6"/><rect x="631" y="12" width="1" height="6"/><rect x="624" y="10" width="6" height="1"/><rect x="633" y="10" width="6" height="1"/>
<rect x="665" y="4" width="1" height="13"/><rect x="688" y="10" width="12" height="1"/></g>
<line x1="716" y1="17" x2="728" y2="4.5" stroke="#444" stroke-width="1" shape-rendering="auto"/>
<!-- channel E -->
<g shape-rendering="auto" fill="none" stroke="#444">
<path d="M741.7,11.6 L749.8,3.8" stroke-width="1" stroke-dasharray="1,0.6"/>
<path d="M747,16.8 L756.3,8" stroke-width="1" stroke-dasharray="1,0.6"/>
<path d="M743.5,15.8 Q745,12 744.5,10.5 M745.5,13.5 Q748,11 747.5,8.5 M748,11.5 Q751,9 750.5,6 M750.5,9.5 Q753.5,7 753.5,2.2 M743,15.5 L754.5,7.5" stroke-width="1.1"/>
</g>
<g fill="#3c3c3c"><rect x="753" y="14" width="2" height="5"/><rect x="755" y="14" width="2" height="1"/><rect x="755" y="16" width="1" height="1"/><rect x="755" y="18" width="2" height="1"/></g>
<!-- fib F -->
<g fill="#555">
<rect x="771" y="3" width="1" height="1"/><rect x="773" y="3" width="1" height="1"/><rect x="775" y="3" width="1" height="1"/><rect x="777" y="3" width="1" height="1"/><rect x="779" y="3" width="1" height="1"/><rect x="781" y="3" width="1" height="1"/><rect x="783" y="3" width="1" height="1"/>
<rect x="771" y="6" width="1" height="1"/><rect x="773" y="6" width="1" height="1"/><rect x="775" y="6" width="1" height="1"/><rect x="777" y="6" width="1" height="1"/><rect x="779" y="6" width="1" height="1"/><rect x="781" y="6" width="1" height="1"/><rect x="783" y="6" width="1" height="1"/>
<rect x="771" y="10" width="1" height="1"/><rect x="773" y="10" width="1" height="1"/><rect x="775" y="10" width="1" height="1"/><rect x="777" y="10" width="1" height="1"/><rect x="779" y="10" width="1" height="1"/><rect x="781" y="10" width="1" height="1"/><rect x="783" y="10" width="1" height="1"/>
<rect x="771" y="14" width="1" height="1"/><rect x="773" y="14" width="1" height="1"/><rect x="775" y="14" width="1" height="1"/><rect x="777" y="14" width="1" height="1"/><rect x="779" y="14" width="1" height="1"/>
</g>
<g fill="#3c3c3c"><rect x="781" y="14" width="2" height="5"/><rect x="783" y="14" width="2" height="1"/><rect x="783" y="16" width="1" height="1"/></g>
<!-- A -->
<text x="801.5" y="15" style="font-family:'Liberation Sans',sans-serif;font-size:12px;fill:#555">A</text>
<!-- T box -->
<rect x="828.5" y="4.5" width="11" height="12" fill="none" stroke="#444" stroke-width="1" stroke-dasharray="1,1"/>
<rect x="830" y="7" width="8" height="1.5" fill="#555"/><rect x="833" y="7" width="1.6" height="8" fill="#555"/>
<!-- arrows/check -->
<g shape-rendering="auto" fill="#555">
<path d="M855,8 L858.5,4 L862,8 Z"/><path d="M862,13 L869,13 L865.5,17 Z"/>
<path d="M857,11 L859.5,13.5 L864.5,8.5" fill="none" stroke="#555" stroke-width="1.2"/>
</g>
<!-- timeframes -->
<text x="902.5" y="14" class="tb" textLength="12.5" lengthAdjust="spacingAndGlyphs">M1</text>
<text x="930.5" y="14" class="tb" textLength="12.5" lengthAdjust="spacingAndGlyphs">M5</text>
<text x="956.5" y="14" class="tb" textLength="17.5" lengthAdjust="spacingAndGlyphs">M15</text>
<text x="984.5" y="14" class="tb" textLength="17.5" lengthAdjust="spacingAndGlyphs">M30</text>
<text x="1015.5" y="14" class="tb" textLength="12" lengthAdjust="spacingAndGlyphs">H1</text>
<text x="1042.5" y="14" class="tb" textLength="12.5" lengthAdjust="spacingAndGlyphs">H4</text>
<text x="1071.5" y="14" class="tb" textLength="11.5" lengthAdjust="spacingAndGlyphs">D1</text>
<text x="1099" y="14" class="tb" textLength="14.5" lengthAdjust="spacingAndGlyphs">W1</text>
<text x="1125.5" y="14" class="tb" textLength="15" lengthAdjust="spacingAndGlyphs">MN</text>
<!-- search -->
<g shape-rendering="auto">
<line x1="1615.5" y1="10.5" x2="1611" y2="15" stroke="#2a5ad0" stroke-width="2.4" stroke-linecap="round"/>
<circle cx="1618.5" cy="7.3" r="3.8" fill="#f4f4ff" stroke="#2a5ad0" stroke-width="1.1"/>
<!-- chat -->
<ellipse cx="1641" cy="12" rx="5.5" ry="4.3" fill="#e8e8ee" stroke="#aaa" stroke-width="1"/>
<path d="M1638,15.5 L1638.5,18.8 L1641,16" fill="#ccc" stroke="#999" stroke-width="0.8"/>
<circle cx="1649.4" cy="7.3" r="8.2" fill="url(#gbadge)"/>
<text x="1645.6" y="12" style="font-family:'Liberation Serif',serif;font-size:13px;fill:#fff;font-weight:bold">1</text>
</g>
</g>

</svg>
</body></html>
